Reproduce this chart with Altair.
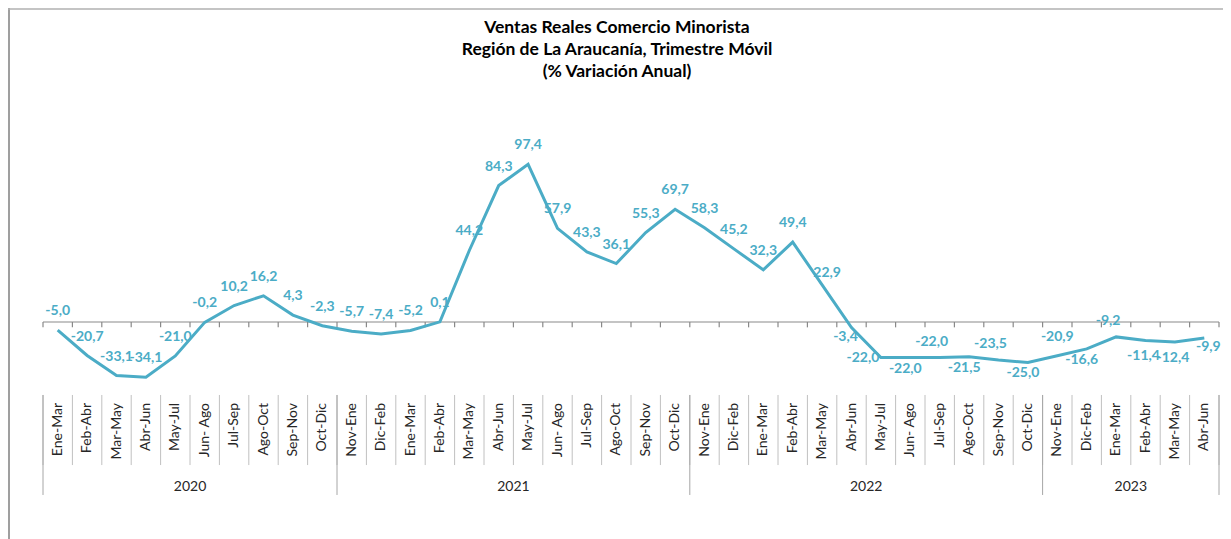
import altair as alt
import pandas as pd

categories = ["Ene-Mar", "Feb-Abr", "Mar-May", "Abr-Jun", "May-Jul", "Jun- Ago", "Jul-Sep", "Ago-Oct", "Sep-Nov", "Oct-Dic",
              "Nov-Ene", "Dic-Feb", "Ene-Mar", "Feb-Abr", "Mar-May", "Abr-Jun", "May-Jul", "Jun- Ago", "Jul-Sep", "Ago-Oct", "Sep-Nov", "Oct-Dic",
              "Nov-Ene", "Dic-Feb", "Ene-Mar", "Feb-Abr", "Mar-May", "Abr-Jun", "May-Jul", "Jun- Ago", "Jul-Sep", "Ago-Oct", "Sep-Nov", "Oct-Dic",
              "Nov-Ene", "Dic-Feb", "Ene-Mar", "Feb-Abr", "Mar-May", "Abr-Jun"]
years = ["2020", "2021", "2022", "2023"]
year_counts = [10, 12, 12, 6]
values = [-5.0, -20.7, -33.1, -34.1, -21.0, -0.2, 10.2, 16.2, 4.3, -2.3,
          -5.7, -7.4, -5.2, 0.1, 44.2, 84.3, 97.4, 57.9, 43.3, 36.1, 55.3, 69.7,
          58.3, 45.2, 32.3, 49.4, 22.9, -3.4, -22.0, -22.0, -22.0, -21.5, -23.5, -25.0,
          -20.9, -16.6, -9.2, -11.4, -12.4, -9.9]
label_place = ["a"] * 26 + ["ne", "sw", "l", "b", "a2", "b", "a2", "b", "a", "b", "a2", "b2", "b2", "se"]
title_lines = ["Ventas Reales Comercio Minorista",
               "Región de La Araucanía, Trimestre Móvil",
               "(% Variación Anual)"]

# placement styles for the data labels (pixel offsets)
place_offsets = {"a": (0, -19), "a2": (-8, -16), "b": (-5, 11), "b2": (-2, 16),
                 "l": (-18, 0), "sw": (-6, 9), "ne": (5, -12), "se": (4, 9)}

LINE = "#4BACC6"
FONT = "Lato"
W, H = 1176, 400

n = len(categories)
df = pd.DataFrame({
    "idx": list(range(n)),
    "cat": categories,
    "value": values,
    "label": [f"{v:.1f}".replace(".", ",") for v in values],
    "place": label_place,
})
bounds = pd.DataFrame({"b": [i - 0.5 for i in range(n + 1)]})
starts = [sum(year_counts[:k]) for k in range(len(years))]
ydf = pd.DataFrame({
    "year": years,
    "mid": [s + c / 2 - 0.5 for s, c in zip(starts, year_counts)],
})
ybounds = pd.DataFrame({"b": [s - 0.5 for s in starts] + [n - 0.5]})

xs = alt.Scale(domain=[-0.5, n - 0.5], nice=False, zero=False)
ys = alt.Scale(domain=[-110, 137.2], nice=False, zero=False)
X = lambda f: alt.X(f, scale=xs, axis=None)

base = alt.Chart(df)

one = pd.DataFrame({"k": [0]})
border_left = alt.Chart(one).mark_rule(color="#7f7f7f", strokeWidth=1.5).encode(
    x=alt.value(-34), y=alt.value(-92), y2=alt.value(H + 39))
border_top = alt.Chart(one).mark_rule(color="#b0b0b0", strokeWidth=1.5).encode(
    y=alt.value(-91), x=alt.value(-35), x2=alt.value(W + 4))

zero_line = alt.Chart(one).mark_rule(color="#898989", strokeWidth=1.2).encode(
    y=alt.datum(0, scale=ys, axis=None), x=alt.value(0), x2=alt.value(W))
zero_ticks = alt.Chart(bounds).mark_rule(color="#898989", strokeWidth=1.2).encode(
    x=X("b:Q"), y=alt.datum(0, scale=ys, axis=None), y2=alt.datum(-3.3))

cat_sep = alt.Chart(bounds).mark_rule(color="#c0c0c0", strokeWidth=1).encode(
    x=X("b:Q"), y=alt.datum(-45.1, scale=ys, axis=None), y2=alt.datum(-88.4))
year_sep = alt.Chart(ybounds).mark_rule(color="#a6a6a6", strokeWidth=1).encode(
    x=X("b:Q"), y=alt.datum(-45.1, scale=ys, axis=None), y2=alt.datum(-106.9))

line = base.mark_line(color=LINE, strokeWidth=3).encode(
    x=X("idx:Q"), y=alt.Y("value:Q", scale=ys, axis=None))

label_layers = []
for code, (dx, dy) in place_offsets.items():
    label_layers.append(
        base.transform_filter(alt.datum.place == code).mark_text(
            font=FONT, fontSize=14, fontWeight="bold", color=LINE, dx=dx, dy=dy,
            align="center", baseline="middle").encode(
            x=X("idx:Q"), y=alt.Y("value:Q", scale=ys, axis=None), text="label:N"))

cat_text = base.mark_text(font=FONT, fontSize=14, color="#262626", angle=270,
                          align="right", baseline="middle").encode(
    x=X("idx:Q"), y=alt.value(303), text="cat:N")
year_text = alt.Chart(ydf).mark_text(font=FONT, fontSize=14, color="#262626",
                                     align="center", baseline="middle").encode(
    x=X("mid:Q"), y=alt.value(387), text="year:N")

title = alt.Chart(one).mark_text(text=title_lines, font=FONT, fontSize=17.5, fontWeight="bold",
                                 color="#000000", lineHeight=22, align="center",
                                 baseline="middle").encode(
    x=alt.value(574), y=alt.value(-72))

chart = alt.layer(
    border_left, border_top, zero_line, zero_ticks, cat_sep, year_sep, line,
    *label_layers, cat_text, year_text, title
).properties(
    width=W, height=H,
    background="white",
    padding={"left": 35, "top": 92, "right": 4, "bottom": 39},
    autosize=alt.AutoSizeParams(type="none"),
).configure_view(strokeWidth=0, stroke="transparent").configure_axis(
    domain=False, ticks=False, labels=False, grid=False
)

chart.save("out.html", embed_options={"renderer": "svg", "actions": False})
